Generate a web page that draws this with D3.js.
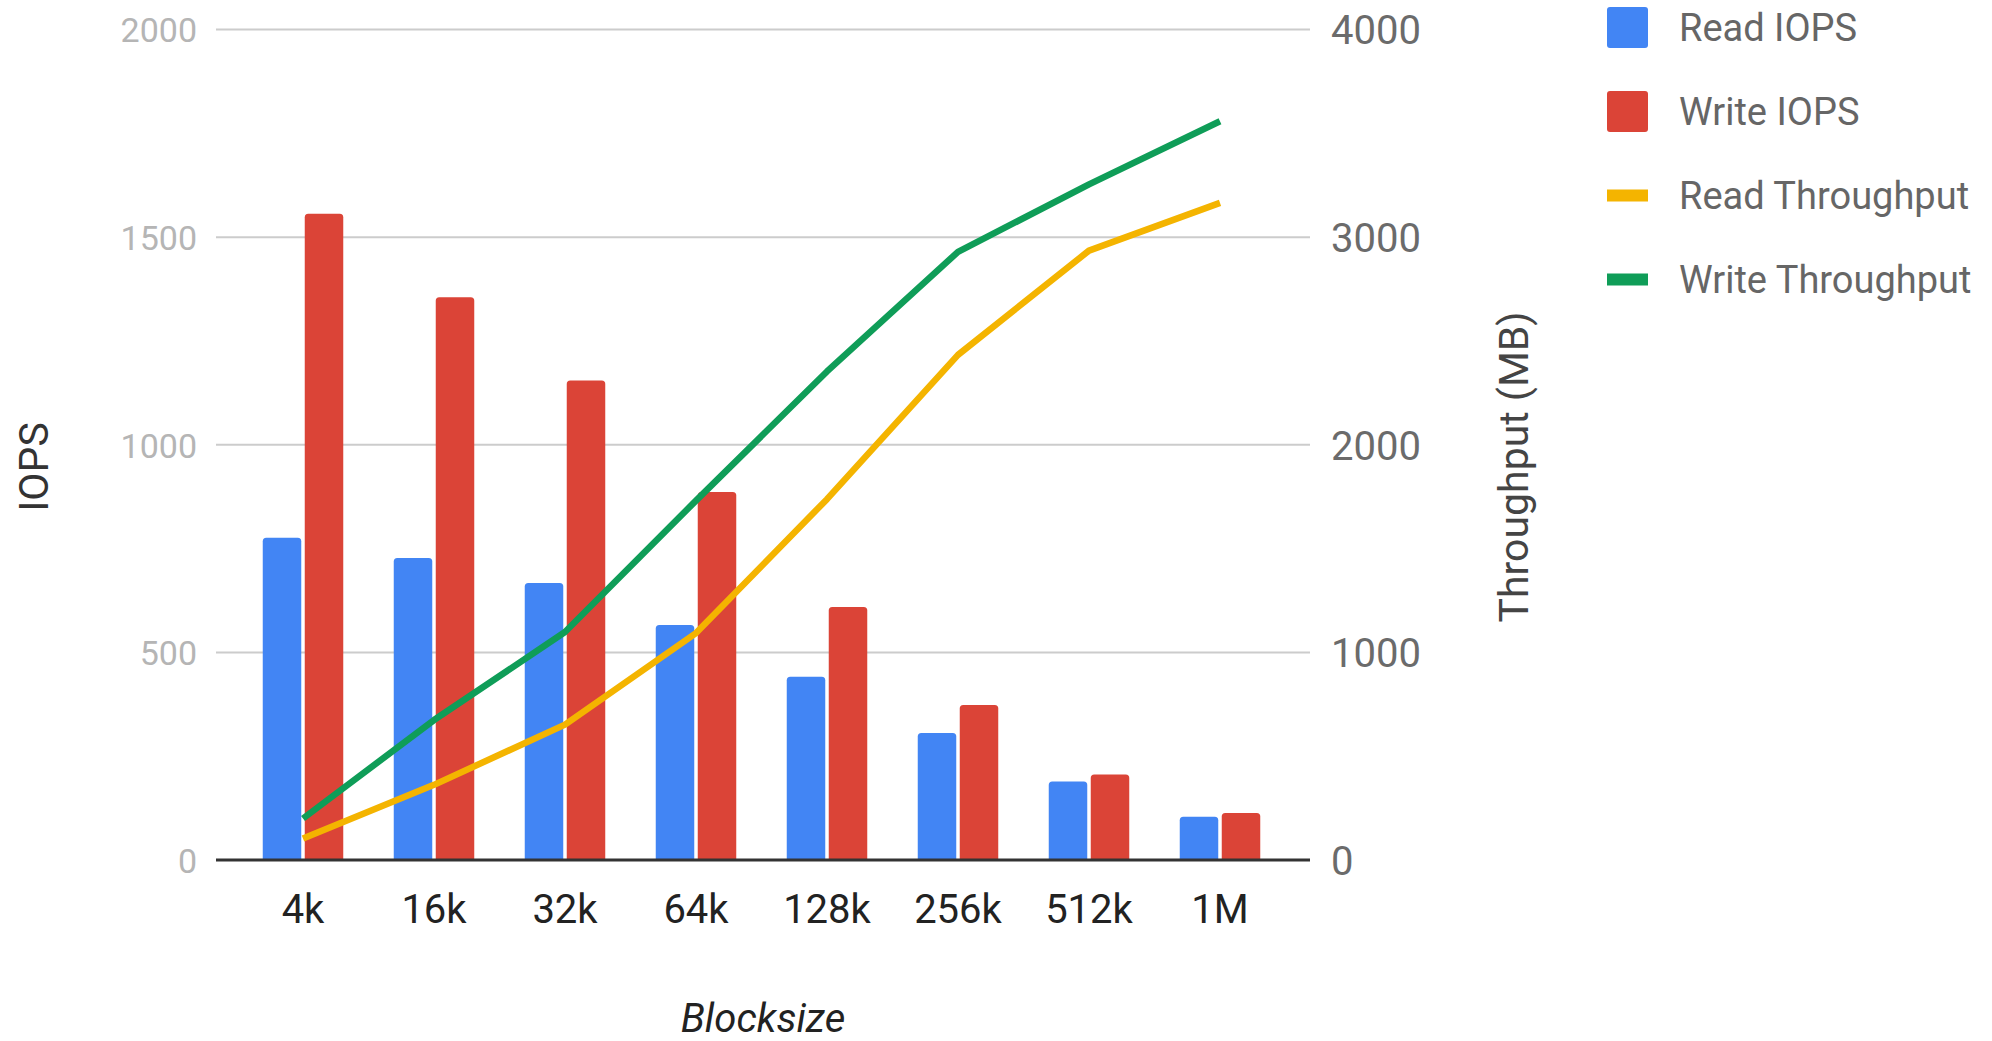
<!DOCTYPE html>
<html>
<head>
<meta charset="utf-8">
<script src="https://cdn.jsdelivr.net/npm/d3@7"></script>
<style>
  html, body { margin: 0; padding: 0; background: #ffffff; }
  svg { display: block; font-family: Roboto, "Noto Sans", sans-serif; }
</style>
</head>
<body>
<svg id="chart" width="1992" height="1041"></svg>
<script>
const categories = ["4k", "16k", "32k", "64k", "128k", "256k", "512k", "1M"];
const readIOPS = [776, 727, 667, 566, 441, 306, 189, 104];
const writeIOPS = [1556, 1355, 1155, 886, 609, 373, 206, 113];
const readThroughput = [104, 362, 652, 1093, 1738, 2433, 2935, 3165];
const writeThroughput = [200, 674, 1098, 1731, 2353, 2929, 3254, 3558];
const leftTicks = [0, 500, 1000, 1500, 2000];
const rightTicks = [0, 1000, 2000, 3000, 4000];
const seriesNames = ["Read IOPS", "Write IOPS", "Read Throughput", "Write Throughput"];
const seriesColors = ["#4285f4", "#db4437", "#f4b400", "#0f9d58"];

const svg = d3.select("#chart");
const plotLeft = 216, plotRight = 1310, plotTop = 29.5, plotBottom = 860;

const x = d3.scaleBand().domain(categories).range([237.5, 1285.5]).padding(0);
const inner = d3.scaleBand().domain(["read", "write"]).range([-40.25, 40.25]).paddingInner(0.0833).paddingOuter(0);
const yL = d3.scaleLinear().domain([0, 2000]).range([plotBottom, plotTop]);
const yR = d3.scaleLinear().domain([0, 4000]).range([plotBottom, plotTop]);
const fmt = d3.format("d");

// gridlines
svg.append("g").selectAll("line").data(leftTicks.filter(d => d > 0)).join("line")
  .attr("x1", plotLeft).attr("x2", plotRight)
  .attr("y1", d => yL(d)).attr("y2", d => yL(d))
  .attr("stroke", "#cccccc").attr("stroke-width", 2);

// left axis labels
const leftAxis = d3.axisLeft(yL).tickValues(leftTicks).tickFormat(fmt).tickSize(0).tickPadding(0);
const gL = svg.append("g").attr("transform", `translate(197,0)`).call(leftAxis);
gL.select(".domain").remove();
gL.selectAll("text").attr("fill", "#b5b5b5").attr("font-size", 34).attr("font-family", "Roboto").attr("dy", "0.36em");

// right axis labels
const rightAxis = d3.axisRight(yR).tickValues(rightTicks).tickFormat(fmt).tickSize(0).tickPadding(0);
const gR = svg.append("g").attr("transform", `translate(1331,0)`).call(rightAxis);
gR.select(".domain").remove();
gR.selectAll("text").attr("fill", "#6b6b6b").attr("font-size", 40).attr("font-family", "Roboto").attr("dy", "0.36em");

// bars with rounded tops
function barPath(x0, w, yTop, yBase, r) {
  const rr = Math.min(r, w / 2, (yBase - yTop));
  return `M${x0},${yBase}V${yTop + rr}Q${x0},${yTop} ${x0 + rr},${yTop}H${x0 + w - rr}Q${x0 + w},${yTop} ${x0 + w},${yTop + rr}V${yBase}Z`;
}
const barData = [];
categories.forEach((c, i) => {
  barData.push({ cat: c, key: "read", v: readIOPS[i], color: seriesColors[0] });
  barData.push({ cat: c, key: "write", v: writeIOPS[i], color: seriesColors[1] });
});
svg.append("g").selectAll("path").data(barData).join("path")
  .attr("d", d => {
    const cx = x(d.cat) + x.bandwidth() / 2;
    return barPath(cx + inner(d.key), inner.bandwidth(), yL(d.v), plotBottom, 3.5);
  })
  .attr("fill", d => d.color);

// baseline
svg.append("line").attr("x1", plotLeft).attr("x2", plotRight)
  .attr("y1", plotBottom).attr("y2", plotBottom)
  .attr("stroke", "#333333").attr("stroke-width", 3);

// lines
const lineGen = (vals) => d3.line()
  .x((d, i) => x(categories[i]) + x.bandwidth() / 2)
  .y(d => yR(d))(vals);
svg.append("path").attr("d", lineGen(readThroughput))
  .attr("fill", "none").attr("stroke", seriesColors[2]).attr("stroke-width", 6.5)
  .attr("stroke-linejoin", "round");
svg.append("path").attr("d", lineGen(writeThroughput))
  .attr("fill", "none").attr("stroke", seriesColors[3]).attr("stroke-width", 6.5)
  .attr("stroke-linejoin", "round");

// x axis labels
const xAxis = d3.axisBottom(x).tickSize(0).tickPadding(0);
const gX = svg.append("g").attr("transform", `translate(0,909)`).call(xAxis);
gX.select(".domain").remove();
gX.selectAll("text").attr("fill", "#222222").attr("font-size", 40).attr("font-family", "Roboto").attr("dy", "0.36em");

// axis titles
svg.append("text").attr("transform", "translate(48,467) rotate(-90)")
  .attr("text-anchor", "middle").attr("font-size", 41).attr("fill", "#333333").text("IOPS");
svg.append("text").attr("transform", "translate(1528,467) rotate(-90)")
  .attr("text-anchor", "middle").attr("font-size", 41).attr("fill", "#444444").text("Throughput (MB)");
svg.append("text").attr("x", 763).attr("y", 1032)
  .attr("text-anchor", "middle").attr("font-size", 40).attr("font-style", "italic").attr("fill", "#222222").text("Blocksize");

// legend
const legendY = [27.5, 111.5, 195.5, 279.5];
const lg = svg.append("g");
seriesNames.forEach((name, i) => {
  if (i < 2) {
    lg.append("rect").attr("x", 1607).attr("y", legendY[i] - 20.5).attr("width", 41).attr("height", 41)
      .attr("rx", 3).attr("fill", seriesColors[i]);
  } else {
    lg.append("rect").attr("x", 1607).attr("y", legendY[i] - 6).attr("width", 41).attr("height", 12)
      .attr("fill", seriesColors[i]);
  }
  lg.append("text").attr("x", 1679).attr("y", legendY[i]).attr("dy", "0.36em")
    .attr("font-size", 38).attr("fill", "#666666").text(name);
});
</script>
</body>
</html>
